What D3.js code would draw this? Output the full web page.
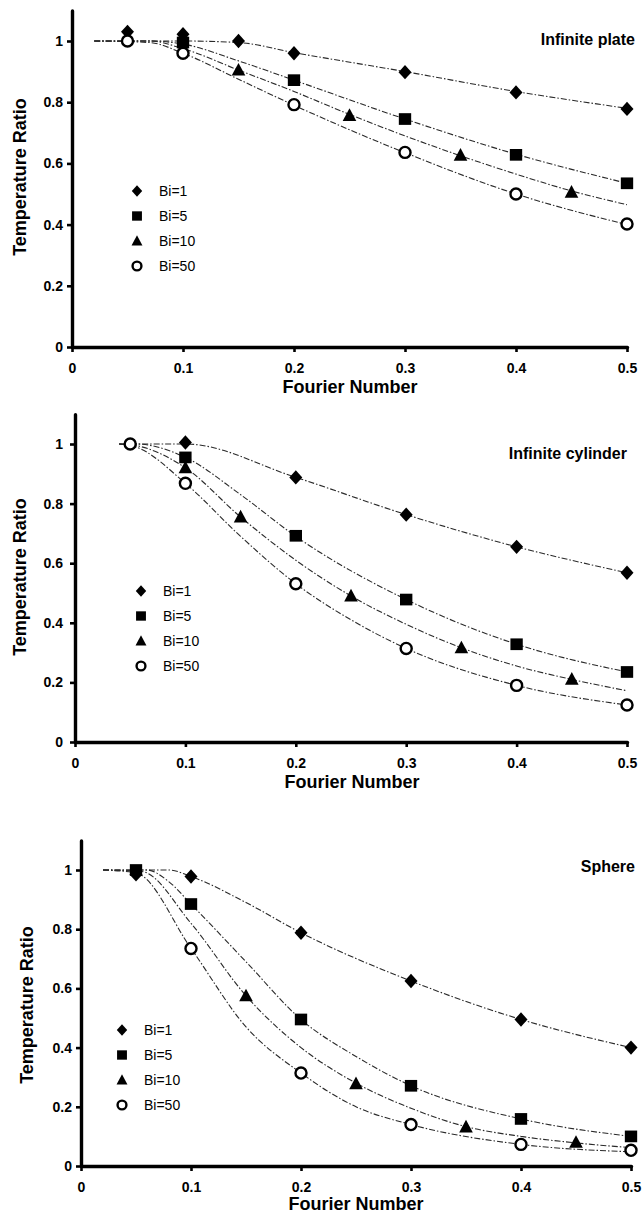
<!DOCTYPE html>
<html>
<head>
<meta charset="utf-8">
<script src="https://cdn.jsdelivr.net/npm/d3@7"></script>
<style>
  html, body { margin: 0; padding: 0; background: #fff; }
  svg { display: block; }
  text { font-family: "Liberation Sans", Arial, sans-serif; fill: #000; }
</style>
</head>
<body>
<script>
// ---------- tick labels / categories ----------
const xTickValues = [0, 0.1, 0.2, 0.3, 0.4, 0.5];
const xTickLabels = ["0", "0.1", "0.2", "0.3", "0.4", "0.5"];
const yTickValues = [0, 0.2, 0.4, 0.6, 0.8, 1];
const yTickLabels = ["0", "0.2", "0.4", "0.6", "0.8", "1"];
const seriesNames = ["Bi=1", "Bi=5", "Bi=10", "Bi=50"];
const panelTitles = ["Infinite plate", "Infinite cylinder", "Sphere"];
const xAxisTitle = "Fourier Number";
const yAxisTitle = "Temperature Ratio";

// ---------- Infinite plate: markers [Fo, ratio] ----------
const plateBi1 = [[0.05,1.03],[0.1,1.022],[0.15,1.0],[0.2,0.96],[0.3,0.898],[0.4,0.832],[0.5,0.778]];
const plateBi5 = [[0.1,0.995],[0.2,0.872],[0.3,0.745],[0.4,0.628],[0.5,0.535]];
const plateBi10 = [[0.15,0.905],[0.25,0.757],[0.35,0.627],[0.45,0.506]];
const plateBi50 = [[0.05,1.0],[0.1,0.96],[0.2,0.792],[0.3,0.636],[0.4,0.5],[0.5,0.402]];
// Infinite plate: model curves
const plateCurveBi1 = [[0.02,1],[0.1,1.0],[0.15,0.995],[0.2,0.962],[0.3,0.9],[0.4,0.835],[0.5,0.78]];
const plateCurveBi5 = [[0.02,1],[0.07,1],[0.1,0.99],[0.15,0.935],[0.2,0.872],[0.3,0.745],[0.4,0.63],[0.5,0.535]];
const plateCurveBi10 = [[0.02,1],[0.07,1],[0.1,0.975],[0.15,0.905],[0.2,0.835],[0.25,0.76],[0.3,0.69],[0.35,0.625],[0.4,0.565],[0.45,0.51],[0.5,0.465]];
const plateCurveBi50 = [[0.02,1],[0.07,0.995],[0.1,0.96],[0.15,0.875],[0.2,0.79],[0.25,0.71],[0.3,0.635],[0.4,0.5],[0.5,0.4]];

// ---------- Infinite cylinder ----------
const cylBi1 = [[0.1,1.005],[0.2,0.888],[0.3,0.763],[0.4,0.655],[0.5,0.568]];
const cylBi5 = [[0.1,0.955],[0.2,0.692],[0.3,0.478],[0.4,0.328],[0.5,0.235]];
const cylBi10 = [[0.1,0.92],[0.15,0.755],[0.25,0.49],[0.35,0.316],[0.45,0.211]];
const cylBi50 = [[0.05,1.0],[0.1,0.868],[0.2,0.531],[0.3,0.314],[0.4,0.19],[0.5,0.124]];
const cylCurveBi1 = [[0.04,1],[0.1,1.0],[0.2,0.888],[0.3,0.763],[0.4,0.655],[0.5,0.568]];
const cylCurveBi5 = [[0.04,1],[0.055,1],[0.1,0.955],[0.15,0.83],[0.2,0.69],[0.3,0.478],[0.4,0.328],[0.5,0.235]];
const cylCurveBi10 = [[0.04,1],[0.055,0.995],[0.1,0.92],[0.15,0.755],[0.2,0.61],[0.25,0.49],[0.3,0.395],[0.35,0.316],[0.4,0.255],[0.45,0.21],[0.5,0.172]];
const cylCurveBi50 = [[0.04,1],[0.055,0.99],[0.1,0.868],[0.15,0.69],[0.2,0.531],[0.25,0.41],[0.3,0.314],[0.4,0.19],[0.5,0.124]];

// ---------- Sphere ----------
const sphBi1 = [[0.05,0.985],[0.1,0.978],[0.2,0.788],[0.3,0.625],[0.4,0.495],[0.5,0.40]];
const sphBi5 = [[0.05,1.0],[0.1,0.885],[0.2,0.495],[0.3,0.271],[0.4,0.159],[0.5,0.10]];
const sphBi10 = [[0.15,0.575],[0.25,0.278],[0.35,0.132],[0.45,0.08]];
const sphBi50 = [[0.1,0.735],[0.2,0.314],[0.3,0.14],[0.4,0.073],[0.5,0.053]];
const sphCurveBi1 = [[0.02,1],[0.065,1],[0.08,1.0],[0.1,0.978],[0.15,0.89],[0.2,0.788],[0.3,0.625],[0.4,0.495],[0.5,0.40]];
const sphCurveBi5 = [[0.02,1],[0.06,1],[0.08,0.96],[0.1,0.885],[0.15,0.69],[0.2,0.495],[0.25,0.37],[0.3,0.271],[0.4,0.159],[0.5,0.10]];
const sphCurveBi10 = [[0.02,1],[0.055,0.995],[0.1,0.82],[0.15,0.575],[0.2,0.40],[0.25,0.28],[0.3,0.195],[0.35,0.133],[0.4,0.1],[0.45,0.078],[0.5,0.062]];
const sphCurveBi50 = [[0.02,1],[0.05,0.99],[0.1,0.735],[0.15,0.47],[0.2,0.314],[0.25,0.2],[0.3,0.14],[0.4,0.073],[0.5,0.048]];

// ---------- drawing ----------
const W = 643, H = 1215;
const svg = d3.select("body").append("svg").attr("width", W).attr("height", H);

const markerTypes = ["diamond", "square", "triangle", "circle"];

function markerPath(type, s) {
  // s = half size
  if (type === "diamond") return `M0,${-s*1.1}L${s},0L0,${s*1.1}L${-s},0Z`;
  if (type === "square") return `M${-s*0.95},${-s*0.9}H${s*0.95}V${s*0.9}H${-s*0.95}Z`;
  if (type === "triangle") return `M0,${-s*1.1}L${s*1.05},${s*0.85}L${-s*1.05},${s*0.85}Z`;
  return null;
}

function drawMarker(g, type, cx, cy, s) {
  if (type === "circle") {
    g.append("circle").attr("cx", cx).attr("cy", cy).attr("r", s * 0.85)
      .attr("fill", "#fff").attr("stroke", "#000").attr("stroke-width", 2.4);
  } else {
    g.append("path").attr("d", markerPath(type, s))
      .attr("transform", `translate(${cx},${cy})`).attr("fill", "#000");
  }
}

function drawPanel(cfg, markers, curves, title) {
  const unit = cfg.yb - cfg.y1;
  const x = d3.scaleLinear().domain([0, 0.5]).range([cfg.xl, cfg.xr]);
  const y = d3.scaleLinear().domain([0, 1]).range([cfg.yb, cfg.y1]);
  const yAxisScale = d3.scaleLinear().domain([0, 1.1]).range([cfg.yb, cfg.yb - 1.1 * unit]);
  const g = svg.append("g");

  // curves
  const line = d3.line().x(d => x(d[0])).y(d => y(d[1])).curve(d3.curveMonotoneX);
  curves.forEach(c => {
    g.append("path").datum(c).attr("d", line)
      .attr("fill", "none").attr("stroke", "#2a2a2a").attr("stroke-width", 1.1)
      .attr("stroke-dasharray", "6,2,1.5,2");
  });

  // axes
  const xAxis = d3.axisBottom(x).tickValues(xTickValues)
    .tickFormat((d, i) => xTickLabels[i]).tickSize(5).tickSizeOuter(0).tickPadding(11);
  const gx = g.append("g").attr("transform", `translate(0,${cfg.yb})`).call(xAxis);
  const yAxis = d3.axisLeft(yAxisScale).tickValues(yTickValues)
    .tickFormat((d, i) => yTickLabels[i]).tickSize(5).tickSizeOuter(0).tickPadding(cfg.yPad);
  const gy = g.append("g").attr("transform", `translate(${cfg.xl},0)`).call(yAxis);
  [gx, gy].forEach(a => {
    a.select(".domain").attr("stroke", "#000").attr("stroke-width", 3.4).attr("stroke-linecap", "round");
    a.selectAll(".tick line").attr("stroke", "#000").attr("stroke-width", 2.6);
    a.selectAll(".tick text").attr("font-family", "Liberation Sans, Arial, sans-serif")
      .attr("font-weight", "bold").attr("font-size", 14).attr("fill", "#000");
  });

  // markers
  markers.forEach((pts, si) => {
    pts.forEach(p => drawMarker(g, markerTypes[si], x(p[0]), y(p[1]), 6.5));
  });

  // legend
  seriesNames.forEach((name, i) => {
    const ly = cfg.legY + i * 25;
    drawMarker(g, markerTypes[i], cfg.legX, ly, 5.2);
    g.append("text").attr("x", cfg.legX + 22).attr("y", ly + 5)
      .attr("font-size", 14).text(name);
  });

  // panel title
  g.append("text").attr("x", cfg.titleX).attr("y", cfg.titleY)
    .attr("text-anchor", "end").attr("font-weight", "bold").attr("font-size", 16)
    .text(title);

  // axis titles
  g.append("text").attr("x", cfg.xTitleX).attr("y", cfg.xTitleY)
    .attr("text-anchor", "middle").attr("font-weight", "bold").attr("font-size", 18)
    .text(xAxisTitle);
  g.append("text").attr("transform", `translate(${cfg.yTitleX},${cfg.yTitleY}) rotate(-90)`)
    .attr("text-anchor", "middle").attr("font-weight", "bold").attr("font-size", 18)
    .text(yAxisTitle);
}

drawPanel({xl: 72, xr: 627, yb: 347, y1: 41, yPad: 4, legX: 137, legY: 191,
           titleX: 635, titleY: 45, xTitleX: 350, xTitleY: 393, yTitleX: 26, yTitleY: 177},
  [plateBi1, plateBi5, plateBi10, plateBi50],
  [plateCurveBi1, plateCurveBi5, plateCurveBi10, plateCurveBi50], panelTitles[0]);

drawPanel({xl: 75, xr: 627, yb: 742, y1: 444, yPad: 7, legX: 141, legY: 591,
           titleX: 627, titleY: 459, xTitleX: 352, xTitleY: 788, yTitleX: 26, yTitleY: 577},
  [cylBi1, cylBi5, cylBi10, cylBi50],
  [cylCurveBi1, cylCurveBi5, cylCurveBi10, cylCurveBi50], panelTitles[1]);

drawPanel({xl: 81, xr: 631, yb: 1166, y1: 870, yPad: 4, legX: 122, legY: 1030,
           titleX: 635, titleY: 872, xTitleX: 356, xTitleY: 1210, yTitleX: 33, yTitleY: 1005},
  [sphBi1, sphBi5, sphBi10, sphBi50],
  [sphCurveBi1, sphCurveBi5, sphCurveBi10, sphCurveBi50], panelTitles[2]);
</script>
</body>
</html>
